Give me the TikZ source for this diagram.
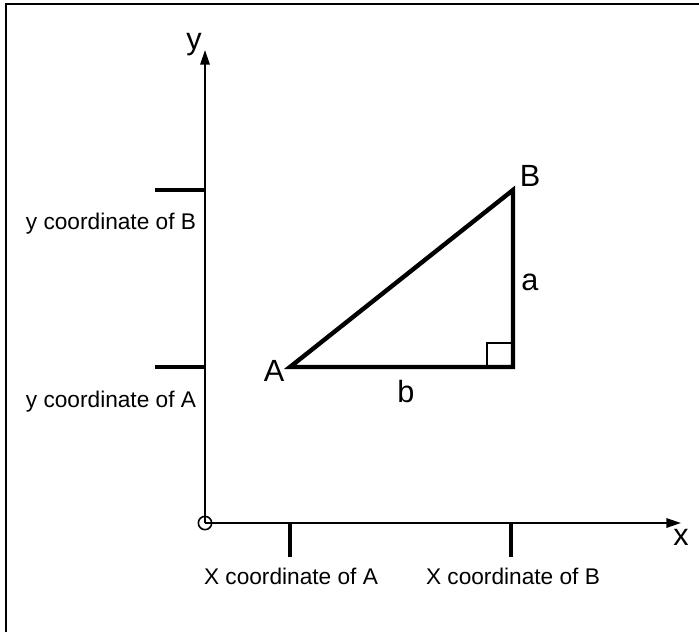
\documentclass[tikz,border=0pt]{standalone}
\usepackage{fontspec}
\setmainfont{Liberation Sans}
\usetikzlibrary{arrows.meta}
\tikzset{
  axis/.style={line width=1.6pt,-{Triangle[length=11pt,width=7pt]}},
  tickmark/.style={line width=2.5pt},
  side/.style={line width=3.3pt,line join=miter},
  coordlabel/.style={font=\fontsize{17}{19}\selectfont,inner sep=0pt},
  vertexlabel/.style={font=\fontsize{23}{26}\selectfont,inner sep=0pt},
  axislabel/.style={font=\fontsize{23}{26}\selectfont,inner sep=0pt},
}
\begin{document}
\begin{tikzpicture}[x=0.75pt,y=-0.75pt]
\useasboundingbox (0,0) rectangle (699,632);
\coordinate (f1) at (6,632);
\coordinate (f2) at (6,4);
\coordinate (f3) at (699,4);
\draw[line width=1.6pt] (f1) -- (f2) -- (f3);
% axes
\coordinate (O) at (205,523);
\coordinate (Ytip) at (205,50);
\coordinate (Xtip) at (681,523);
\draw[axis] (O) -- (Ytip);
\draw[axis] (O) -- (Xtip);
\node[draw,circle,line width=1.2pt,minimum size=10pt,inner sep=0pt] (orig) at (O) {};
\node[axislabel] (ylab) at (194,45) {y};
\node[axislabel] (xlab) at (681,537) {x};
% y ticks
\coordinate (tyB1) at (155,190); \coordinate (tyB2) at (205,190);
\coordinate (tyA1) at (155,367); \coordinate (tyA2) at (205,367);
\draw[tickmark] (tyB1) -- (tyB2);
\draw[tickmark] (tyA1) -- (tyA2);
\node[coordlabel] (lyB) at (111,224) {y coordinate of B};
\node[coordlabel] (lyA) at (111,402) {y coordinate of A};
% x ticks
\coordinate (txA1) at (290,523); \coordinate (txA2) at (290,557);
\coordinate (txB1) at (511,523); \coordinate (txB2) at (511,557);
\draw[tickmark] (txA1) -- (txA2);
\draw[tickmark] (txB1) -- (txB2);
\node[coordlabel] (lxA) at (291,576) {X coordinate of A};
\node[coordlabel] (lxB) at (513,576) {X coordinate of B};
% triangle
\coordinate (A) at (290,367);
\coordinate (B) at (513,190);
\coordinate (C) at (513,367);
\draw[side] (A) -- (B) -- (C) -- cycle;
\draw[line width=1.4pt] (487,367) -- (487,343) -- (513,343);
\node[vertexlabel] (lA) at (274,371) {A};
\node[vertexlabel] (lB) at (530,176) {B};
\node[vertexlabel] (la) at (530,282) {a};
\node[vertexlabel] (lb) at (406,392) {b};
\end{tikzpicture}
\end{document}
